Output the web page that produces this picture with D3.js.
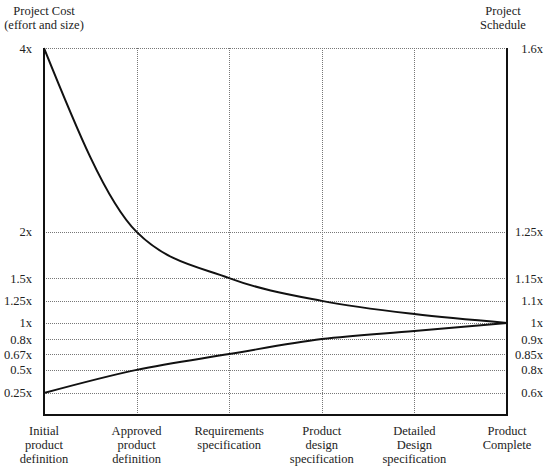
<!DOCTYPE html>
<html>
<head>
<meta charset="utf-8">
<script src="https://cdn.jsdelivr.net/npm/d3@7"></script>
<style>
  body { margin: 0; background: #fff; }
  text { font-family: "Liberation Serif", "Times New Roman", serif; font-size: 12.5px; fill: #222; }
</style>
</head>
<body>
<svg id="chart" width="549" height="473"></svg>
<script>
// milestones along the project (x axis)
const milestones = [
  'Initial\nproduct\ndefinition',
  'Approved\nproduct\ndefinition',
  'Requirements\nspecification',
  'Product\ndesign\nspecification',
  'Detailed\nDesign\nspecification',
  'Product\nComplete',
];
// left axis: cost multipliers, right axis: schedule multipliers (same rows)
const costTicks = [4, 2, 1.5, 1.25, 1, 0.8, 0.67, 0.5, 0.25];
const scheduleTicks = [1.6, 1.25, 1.15, 1.1, 1, 0.9, 0.85, 0.8, 0.6];
// the cone
const upperEstimate = [4, 2, 1.5, 1.25, 1.1, 1];
const lowerEstimate = [0.25, 0.5, 0.67, 0.8, 0.9, 1];

const width = 549, height = 473;
const margin = { top: 48, right: 42, bottom: 58, left: 44 };
const w = width - margin.left - margin.right;
const h = height - margin.top - margin.bottom;
// the chart's vertical scale is hand drawn, so rows are placed as fractions of height
const tickRows = [0, 0.501, 0.627, 0.689, 0.749, 0.793, 0.834, 0.877, 0.94];

const svg = d3.select('#chart');
const g = svg.append('g').attr('transform', `translate(${margin.left},${margin.top})`);

const x = d3.scalePoint().domain(milestones).range([0, w]);
const y = d3.scaleLinear().domain(costTicks).range(tickRows.map((f) => f * h));
const ySched = d3.scaleLinear().domain(scheduleTicks).range(tickRows.map((f) => f * h));

// dotted grid
g.append('g')
  .selectAll('line')
  .data(costTicks)
  .join('line')
  .attr('x1', 0)
  .attr('x2', w)
  .attr('y1', (d) => Math.round(y(d)) + 0.5)
  .attr('y2', (d) => Math.round(y(d)) + 0.5)
  .attr('stroke', '#777')
  .attr('stroke-width', 1)
  .attr('stroke-dasharray', '1,1');

g.append('g')
  .selectAll('line')
  .data(milestones.slice(1, -1))
  .join('line')
  .attr('x1', (d) => Math.round(x(d)) + 0.5)
  .attr('x2', (d) => Math.round(x(d)) + 0.5)
  .attr('y1', 0)
  .attr('y2', h)
  .attr('stroke', '#777')
  .attr('stroke-width', 1)
  .attr('stroke-dasharray', '1,1');

// frame: left, bottom, right in solid black
g.append('path')
  .attr('d', `M0,0 V${h} H${w} V0`)
  .attr('fill', 'none')
  .attr('stroke', '#111')
  .attr('stroke-width', 2);

// axes
const leftAxis = g.append('g')
  .call(d3.axisLeft(y).tickValues(costTicks).tickFormat((d) => d + 'x').tickSize(0).tickPadding(12));
leftAxis.select('.domain').remove();

const rightAxis = g.append('g')
  .attr('transform', `translate(${w},0)`)
  .call(d3.axisRight(ySched).tickValues(scheduleTicks).tickFormat((d) => d + 'x').tickSize(0));
rightAxis.select('.domain').remove();
rightAxis.selectAll('text').attr('text-anchor', 'end').attr('x', 36);

svg.selectAll('.tick text')
  .attr('font-family', null)
  .attr('font-size', null)
  .attr('fill', null);

// milestone labels
const bottom = g.append('g').attr('transform', `translate(0,${h})`);
bottom.selectAll('text')
  .data(milestones)
  .join('text')
  .attr('text-anchor', 'middle')
  .attr('transform', (d) => `translate(${x(d)},20)`)
  .selectAll('tspan')
  .data((d) => d.split('\n'))
  .join('tspan')
  .attr('x', 0)
  .attr('y', (d, i) => i * 14)
  .text((d) => d);

// axis titles
svg.append('text')
  .attr('text-anchor', 'middle')
  .selectAll('tspan')
  .data(['Project Cost', '(effort and size)'])
  .join('tspan')
  .attr('x', margin.left)
  .attr('y', (d, i) => 15 + i * 14)
  .text((d) => d);

svg.append('text')
  .attr('text-anchor', 'middle')
  .selectAll('tspan')
  .data(['Project', 'Schedule'])
  .join('tspan')
  .attr('x', margin.left + w - 4)
  .attr('y', (d, i) => 15 + i * 14)
  .text((d) => d);

// the two bounding curves
const line = d3.line()
  .x((d, i) => x(milestones[i]))
  .y((d) => y(d))
  .curve(d3.curveMonotoneX);

[upperEstimate, lowerEstimate].forEach((series) => {
  g.append('path')
    .datum(series)
    .attr('d', line)
    .attr('fill', 'none')
    .attr('stroke', '#111')
    .attr('stroke-width', 2);
});
</script>
</body>
</html>
